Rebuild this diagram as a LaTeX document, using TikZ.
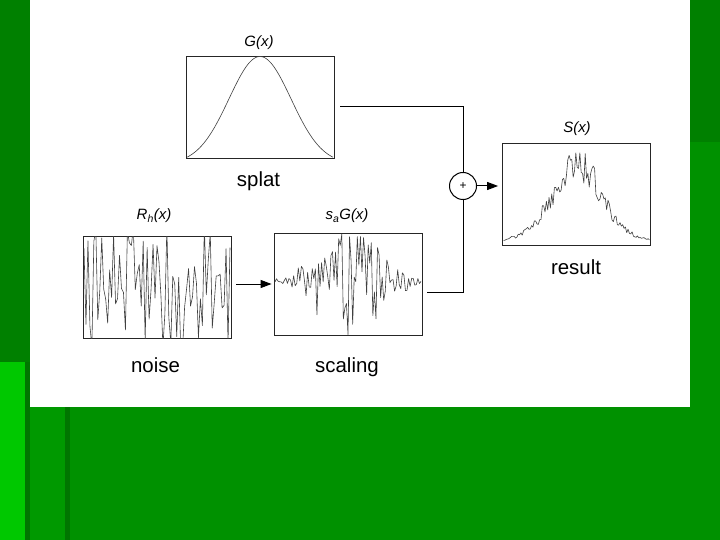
\documentclass[tikz,border=0pt]{standalone}
\usepackage{fontspec}
\setmainfont{Liberation Sans}
\usetikzlibrary{positioning,arrows.meta}
\definecolor{verdfosc}{RGB}{0,128,0}
\definecolor{verdmig}{RGB}{0,145,0}
\definecolor{verdclar}{RGB}{0,200,0}
\definecolor{verdlinia}{RGB}{0,118,0}

\begin{document}
\begin{tikzpicture}[x=1bp, y=-1bp,
    caixa/.style={draw=black!85, line width=0.8bp, minimum width=148bp, minimum height=102bp, inner sep=0pt},
    funcio/.style={font=\fontsize{15}{15}\selectfont\itshape, inner sep=0pt, anchor=base},
    nom/.style={font=\fontsize{20.5}{20.5}\selectfont, inner sep=0pt, anchor=base},
    senyal/.style={black!75, line width=0.6bp, line join=round},
    fil/.style={line width=1bp},
    fletxa/.style={fil, -{Triangle[length=11bp, width=8bp]}}]

    % FONS DE LA DIAPOSITIVA
    \fill[verdmig] (0,0) rectangle (720,540);
    \fill[verdfosc] (0,0) rectangle (30,362);
    \fill[verdfosc] (690,0) rectangle (720,142);
    \fill[verdclar] (0,362) rectangle (25,540);
    \fill[verdlinia] (25,362) rectangle (30,540);
    \fill[verdmig!85!verdclar] (30,407) rectangle (65,540);
    \fill[verdlinia] (65,407) rectangle (70,540);
    \fill[white] (30,0) rectangle (690,407);

    % CAIXES DELS SENYALS
    \node[caixa] (splat) at (260,107) {};
    \node[caixa] (soroll) at (157,287.5) {};
    \node[caixa] (escala) at (348,284) {};
    \node[caixa] (result) at (576.5,194) {};

    % ETIQUETES DE LES FUNCIONS
    \node[funcio] (lG) at (259,47) {G(x)};
    \node[funcio] (lS) at (577,133) {S(x)};
    \node[funcio] (lR) at (154,220) {R\textsubscript{h}(x)};
    \node[funcio] (lsG) at (347,220) {s\textsubscript{a}G(x)};

    % NOMS SOTA LES CAIXES
    \foreach \nm/\t/\px/\py in {nsplat/splat/258.5/187, nsoroll/noise/155.5/372,
        nescala/scaling/347/372, nresult/result/576/275} {
        \node[nom] (\nm) at (\px,\py) {\t};
    }

    % SUMADOR
    \node[draw, circle, fil, minimum size=27bp, inner sep=0pt, font=\fontsize{12}{12}\selectfont] (suma) at (463,186) {+};

    % CONNEXIONS
    \coordinate (sortida) at ([yshift=-8bp]escala.east);
    \draw[fil, shorten <=6bp] (splat.east) -| (suma.north);
    \draw[fil, shorten <=5bp] (sortida) -| (suma.south);
    \draw[fletxa, shorten <=5bp, shorten >=2bp] (soroll.east |- escala.west) -- (escala.west);
    \draw[fletxa, shorten >=4bp] (suma.east) -- (suma.east -| result.west);

    % CORBES (Gaussiana i sorolls)
    \pgfmathsetseed{2718}
    \begin{scope}[shift={(splat.center)}]
        \draw[senyal] plot[domain=-73:73, samples=80, smooth] (\x, {50.5-101*(exp(-(\x*\x)/1922)-0.06)/0.94});
    \end{scope}
    \begin{scope}[shift={(soroll.center)}]
        \clip (-74,-51) rectangle (74,51);
        \draw[senyal] plot[domain=-73:73, samples=75] (\x, {62*rand});
    \end{scope}
    \begin{scope}[shift={(escala.center)}]
        \clip (-74,-51) rectangle (74,51);
        \draw[senyal] plot[domain=-73:73, samples=95] (\x, {-2+58*rand*exp(-(\x*\x)/1800)});
    \end{scope}
    \begin{scope}[shift={(result.center)}]
        \clip (-74,-51) rectangle (74,51);
        \draw[senyal] plot[domain=-73:73, samples=110] (\x, {50-100*(0.75*exp(-(\x*\x)/968)+0.25*exp(-(\x*\x)/3200))*(0.8+0.2*rand)});
    \end{scope}

\end{tikzpicture}
\end{document}
